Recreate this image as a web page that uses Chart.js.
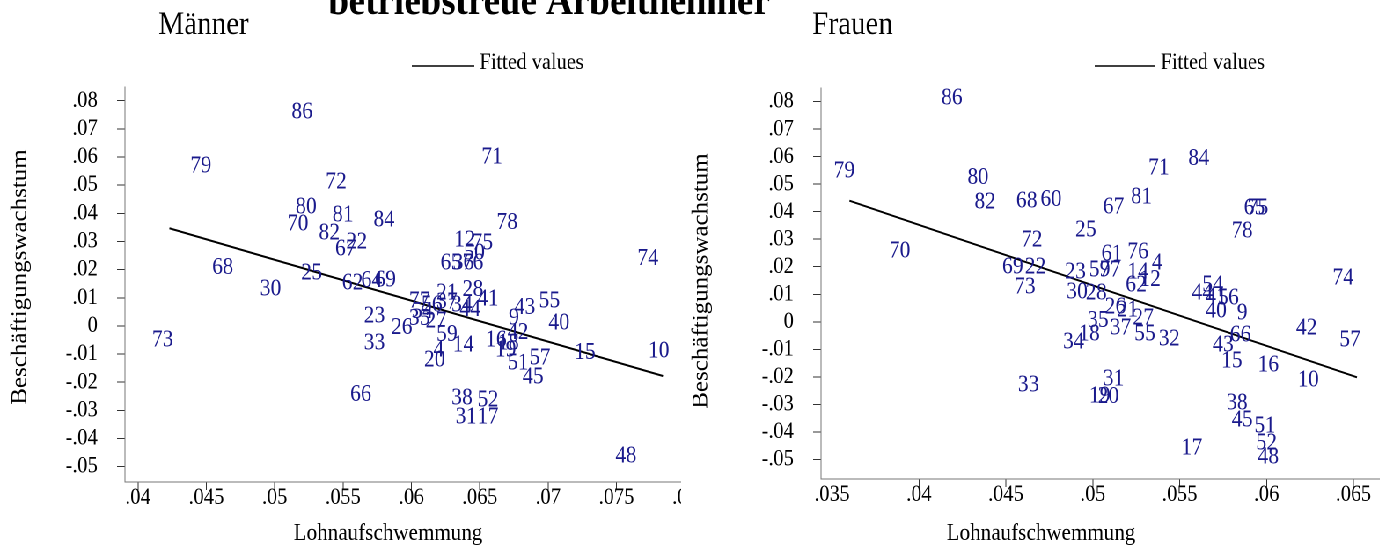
<!DOCTYPE html>
<html>
<head>
<meta charset="utf-8">
<script src="https://cdn.jsdelivr.net/npm/chart.js@4.4.1/dist/chart.umd.min.js"></script>
<style>
  html, body { margin: 0; padding: 0; background: #fff; }
  #wrap { position: relative; width: 1380px; height: 550px; overflow: hidden; }
  /* the reference type is slightly condensed: draw wider, then squeeze horizontally */
  #stage { position: absolute; left: 0; top: 0; width: 1568px; height: 550px; transform: scaleX(0.88); transform-origin: 0 0; }
  #leftClip { position: absolute; left: 0; top: 0; width: 774px; height: 550px; overflow: hidden; }
  #cm { position: absolute; left: 0; top: 0; }
  #cf { position: absolute; left: 780px; top: 0; }
  #overlay { position: absolute; left: 0; top: 0; width: 1568px; height: 550px; pointer-events: none; }
</style>
</head>
<body>
<div id="wrap">
  <div id="stage">
    <div id="leftClip"><canvas id="cm" width="818" height="550"></canvas></div>
    <canvas id="cf" width="789" height="550"></canvas>
    <canvas id="overlay" width="3136" height="1100"></canvas>
  </div>
</div>
<script>
const mainTitle = 'betriebstreue Arbeitnehmer';
const xTitle = 'Lohnaufschwemmung';
const yTitle = 'Beschäftigungswachstum';
const fitLabel = 'Fitted values';

const yTicks = [-0.05, -0.04, -0.03, -0.02, -0.01, 0, 0.01, 0.02, 0.03, 0.04, 0.05, 0.06, 0.07, 0.08];
const menXTicks = [0.04, 0.045, 0.05, 0.055, 0.06, 0.065, 0.07, 0.075, 0.08];
const womenXTicks = [0.035, 0.04, 0.045, 0.05, 0.055, 0.06, 0.065];

// Männer
const menLabels = ['86','79','72','80','81','70','84','82','22','67','68','25','30','62','64','69',
  '71','78','12','75','50','65','36','76','74','28','21','41','43','55','77','56','37','34','44','54',
  '35','27','26','23','33','73','9','42','40','59','14','16','18','19','4','20','51','57','45','15',
  '10','66','38','52','31','17','48'];
const menX = [0.0520,0.0446,0.0545,0.0523,0.0550,0.0517,0.0580,0.0540,0.0560,0.0552,0.0462,0.0527,0.0497,0.0557,0.0571,0.0581,
  0.0659,0.0670,0.0639,0.0652,0.0646,0.0629,0.0638,0.0645,0.0773,0.0645,0.0626,0.0656,0.0683,0.0701,0.0606,0.0615,0.0626,0.0637,0.0643,0.0608,
  0.0606,0.0618,0.0593,0.0573,0.0573,0.0418,0.0675,0.0678,0.0708,0.0626,0.0638,0.0662,0.0671,0.0669,0.0620,0.0617,0.0678,0.0694,0.0689,0.0727,
  0.0781,0.0563,0.0637,0.0656,0.0640,0.0656,0.0757];
const menY = [0.0760,0.0568,0.0511,0.0422,0.0394,0.0362,0.0376,0.0330,0.0298,0.0273,0.0206,0.0188,0.0131,0.0152,0.0160,0.0163,
  0.0600,0.0366,0.0305,0.0294,0.0259,0.0223,0.0223,0.0223,0.0238,0.0128,0.0117,0.0095,0.0064,0.0088,0.0088,0.0074,0.0085,0.0074,0.0057,0.0051,
  0.0026,0.0017,-0.0007,0.0035,-0.0062,-0.0050,0.0028,-0.0025,0.0010,-0.0032,-0.0068,-0.0050,-0.0061,-0.0086,-0.0086,-0.0121,-0.0132,-0.0114,-0.0182,-0.0096,
  -0.0089,-0.0245,-0.0256,-0.0264,-0.0324,-0.0324,-0.0462];
const menFitX = [0.0423, 0.0784];
const menFitY = [0.0347, -0.0178];

// Frauen
const womenLabels = ['86','79','80','82','68','60','72','70','69','22','73','71','84','81','67','65','75','78','25',
  '61','76','23','59','77','14','4','12','62','74','30','28','54','44','41','56','40','9','26','21','27','35',
  '37','55','32','18','34','66','43','42','57','15','16','10','33','31','19','20','38','45','51','52','48','17'];
const womenX = [0.0419,0.0357,0.0434,0.0438,0.0462,0.0476,0.0465,0.0389,0.0454,0.0467,0.0461,0.0538,0.0561,0.0528,0.0512,0.0593,0.0595,0.0586,0.0496,
  0.0511,0.0526,0.0490,0.0504,0.0510,0.0526,0.0537,0.0533,0.0525,0.0644,0.0491,0.0502,0.0569,0.0563,0.0571,0.0578,0.0571,0.0586,0.0513,0.0520,0.0529,0.0503,
  0.0516,0.0530,0.0544,0.0498,0.0489,0.0585,0.0575,0.0623,0.0648,0.0580,0.0601,0.0624,0.0463,0.0512,0.0504,0.0509,0.0583,0.0586,0.0599,0.0600,0.0601,0.0557];
const womenY = [0.0813,0.0548,0.0523,0.0435,0.0439,0.0443,0.0297,0.0257,0.0199,0.0199,0.0126,0.0559,0.0592,0.0453,0.0417,0.0413,0.0413,0.0330,0.0333,
  0.0246,0.0253,0.0181,0.0188,0.0188,0.0181,0.0213,0.0152,0.0133,0.0159,0.0108,0.0104,0.0133,0.0104,0.0090,0.0086,0.0039,0.0031,0.0053,0.0042,0.0013,0.0003,
  -0.0023,-0.0045,-0.0063,-0.0045,-0.0074,-0.0049,-0.0085,-0.0023,-0.0067,-0.0143,-0.0158,-0.0212,-0.0230,-0.0209,-0.0270,-0.0273,-0.0296,-0.0358,-0.0379,-0.0441,-0.0492,-0.0459];
const womenFitX = [0.0360, 0.0652];
const womenFitY = [0.0440, -0.0202];

const SERIF = '"Liberation Serif", "Times New Roman", serif';
const NAVY = '#1a1a8c';

function fmt(v) {
  const n = parseFloat(Number(v).toFixed(4));
  if (n === 0) return '0';
  return (n < 0 ? '-' : '') + String(Math.abs(n)).replace(/^0/, '');
}

const markerLabels = {
  id: 'markerLabels',
  afterDatasetsDraw(chart) {
    const ctx = chart.ctx;
    const ds = chart.data.datasets[0];
    const meta = chart.getDatasetMeta(0);
    ctx.save();
    ctx.font = '24px ' + SERIF;
    ctx.fillStyle = NAVY;
    ctx.textAlign = 'center';
    ctx.textBaseline = 'middle';
    meta.data.forEach((pt, i) => ctx.fillText(ds.data[i].label, pt.x, pt.y));
    ctx.restore();
  }
};

function panel(id, p) {
  const points = p.labels.map((l, i) => ({ x: p.x[i], y: p.y[i], label: l }));
  const fit = p.fitX.map((x, i) => ({ x: x, y: p.fitY[i] }));
  const border = { display: true, color: '#777', width: 1 };
  return new Chart(document.getElementById(id), {
    type: 'scatter',
    data: {
      datasets: [
        { data: points, pointRadius: 0, pointHoverRadius: 0, showLine: false },
        { type: 'line', data: fit, borderColor: '#000', borderWidth: 2, pointRadius: 0, fill: false }
      ]
    },
    options: {
      responsive: false,
      animation: false,
      devicePixelRatio: 2,
      events: [],
      layout: { padding: { left: 0, right: p.padRight, top: p.top, bottom: 0 } },
      plugins: { legend: { display: false }, tooltip: { enabled: false } },
      scales: {
        x: {
          type: 'linear', min: p.xMin, max: p.xMax,
          afterFit: s => { s.height = p.xHeight; },
          afterBuildTicks: s => { s.ticks = p.xTicks.map(v => ({ value: v })); },
          ticks: { callback: fmt, autoSkip: false, maxRotation: 0, padding: -6, color: '#000', font: { family: SERIF, size: 23 } },
          grid: { display: true, drawOnChartArea: false, drawTicks: true, tickLength: 8, color: '#333' },
          border: border
        },
        y: {
          type: 'linear', min: p.yMin, max: p.yMax,
          afterFit: s => { s.width = p.yWidth; },
          afterBuildTicks: s => { s.ticks = yTicks.map(v => ({ value: v })); },
          ticks: { callback: fmt, autoSkip: false, padding: 22, color: '#000', font: { family: SERIF, size: 23 } },
          grid: { display: true, drawOnChartArea: false, drawTicks: true, tickLength: 9, color: '#333' },
          border: border
        }
      }
    },
    plugins: [markerLabels]
  });
}

panel('cm', {
  labels: menLabels, x: menX, y: menY, fitX: menFitX, fitY: menFitY, xTicks: menXTicks,
  xMin: 0.03905, xMax: 0.08224, yMin: -0.05545, yMax: 0.08487,
  yWidth: 142, xHeight: 68, top: 87, padRight: 5
});

panel('cf', {
  labels: womenLabels, x: womenX, y: womenY, fitX: womenFitX, fitY: womenFitY, xTicks: womenXTicks,
  xMin: 0.034366, xMax: 0.066567, yMin: -0.05716, yMax: 0.08498,
  yWidth: 153, xHeight: 71, top: 88, padRight: 0
});

// titles, legends and axis titles (stage coordinates, before the horizontal squeeze)
const ov = document.getElementById('overlay').getContext('2d');
ov.scale(2, 2);
ov.fillStyle = '#000';
ov.textBaseline = 'alphabetic';

ov.font = 'bold 42px ' + SERIF;
ov.textAlign = 'center';
ov.fillText(mainTitle, 624, 14);

ov.font = '33px ' + SERIF;
ov.textAlign = 'left';
ov.fillText('Männer', 180, 34);
ov.fillText('Frauen', 923, 34);

function legend(x0, x1, textX) {
  ov.strokeStyle = '#000';
  ov.lineWidth = 1.5;
  ov.beginPath();
  ov.moveTo(x0, 66);
  ov.lineTo(x1, 66);
  ov.stroke();
  ov.font = '23px ' + SERIF;
  ov.textAlign = 'left';
  ov.fillText(fitLabel, textX, 69);
}
legend(468, 539, 545);
legend(1244, 1312, 1319);

ov.font = '24px ' + SERIF;
ov.textAlign = 'center';
ov.fillText(xTitle, 441, 540);
ov.fillText(xTitle, 1183, 540);

function yAxisTitle(x, y) {
  ov.save();
  ov.translate(x, y);
  ov.rotate(-Math.PI / 2);
  ov.font = '25px ' + SERIF;
  ov.textAlign = 'center';
  ov.textBaseline = 'middle';
  ov.fillText(yTitle, 0, 0);
  ov.restore();
}
yAxisTitle(23, 277);
yAxisTitle(797, 281);
</script>
</body>
</html>
